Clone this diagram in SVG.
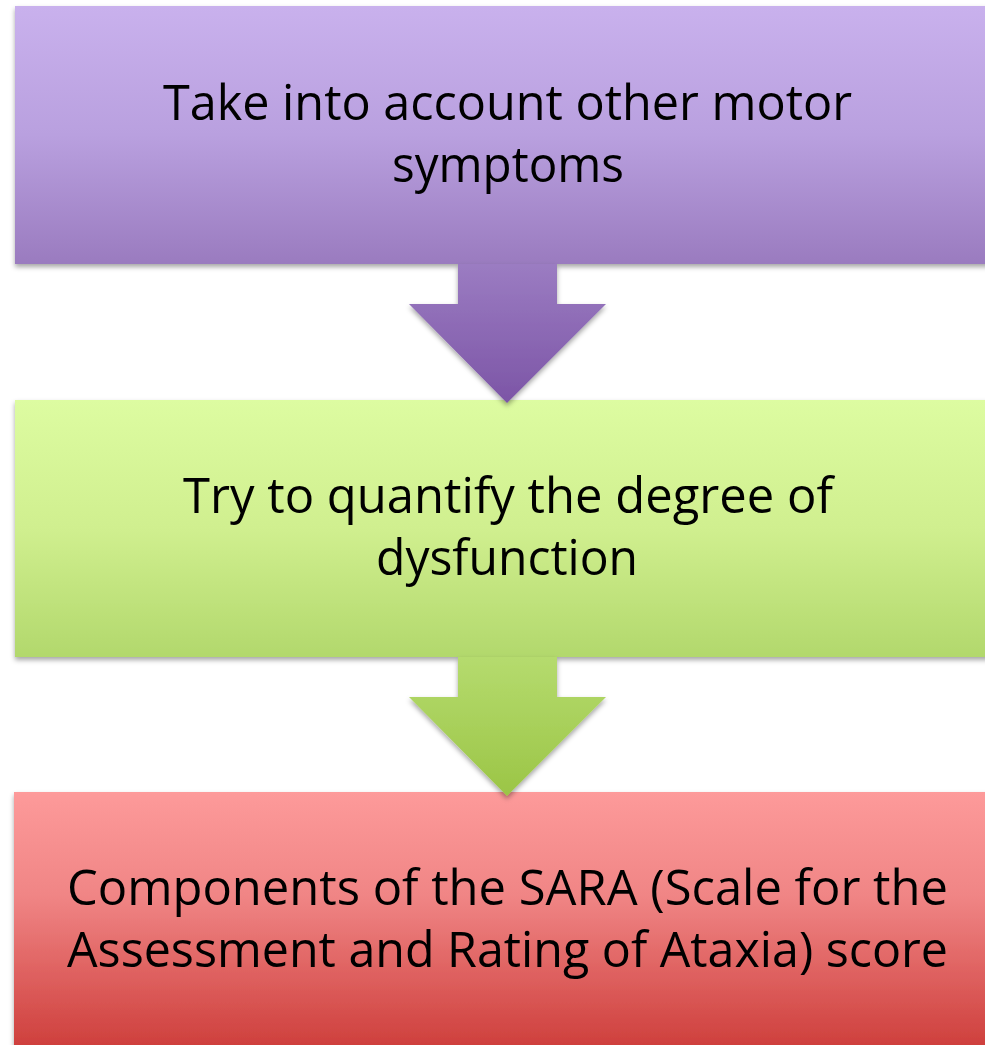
<svg xmlns="http://www.w3.org/2000/svg" width="985" height="1045" viewBox="0 0 985 1045">
<defs>
<linearGradient id="gPurple" x1="0" y1="0" x2="0" y2="1"><stop offset="0" stop-color="#c9b1ed"/><stop offset="0.5" stop-color="#b9a0df"/><stop offset="1" stop-color="#9a7bbf"/></linearGradient>
<linearGradient id="gGreen" x1="0" y1="0" x2="0" y2="1"><stop offset="0" stop-color="#ddfca1"/><stop offset="0.5" stop-color="#d0ef8f"/><stop offset="1" stop-color="#b2d86c"/></linearGradient>
<linearGradient id="gRed" x1="0" y1="0" x2="0" y2="1"><stop offset="0" stop-color="#fd9a9a"/><stop offset="0.4" stop-color="#f08585"/><stop offset="1" stop-color="#cd3d3a"/></linearGradient>
<linearGradient id="gArrowP" x1="0" y1="0" x2="0" y2="1"><stop offset="0" stop-color="#9b7cc2"/><stop offset="1" stop-color="#7c55a6"/></linearGradient>
<linearGradient id="gArrowG" x1="0" y1="0" x2="0" y2="1"><stop offset="0" stop-color="#b5db6e"/><stop offset="1" stop-color="#9bc546"/></linearGradient>
<filter id="shadow" x="-5%" y="-5%" width="110%" height="115%"><feDropShadow dx="0" dy="3" stdDeviation="2.5" flood-color="#000" flood-opacity="0.35"/></filter>
</defs>
<style>
.lbl{font-family:"Open Sans","Liberation Sans",sans-serif;font-size:49px;fill:#000;text-anchor:middle}
</style>
<rect width="985" height="1045" fill="#ffffff"/>
<g id="node1">
<rect x="15" y="6" width="986" height="258" fill="url(#gPurple)" filter="url(#shadow)"/>
<text class="lbl" x="507.5" y="120" textLength="689" lengthAdjust="spacingAndGlyphs">Take into account other motor</text>
<text class="lbl" x="508" y="182" textLength="232" lengthAdjust="spacingAndGlyphs">symptoms</text>
</g>
<g id="node2">
<rect x="15" y="400" width="986" height="257" fill="url(#gGreen)" filter="url(#shadow)"/>
<text class="lbl" x="508" y="513" textLength="650" lengthAdjust="spacingAndGlyphs">Try to quantify the degree of</text>
<text class="lbl" x="507" y="575" textLength="262" lengthAdjust="spacingAndGlyphs">dysfunction</text>
</g>
<g id="node3">
<rect x="14" y="792" width="987" height="260" fill="url(#gRed)" filter="url(#shadow)"/>
<text class="lbl" x="507.5" y="905" textLength="881" lengthAdjust="spacingAndGlyphs">Components of the SARA (Scale for the</text>
<text class="lbl" x="507.5" y="967" textLength="881" lengthAdjust="spacingAndGlyphs">Assessment and Rating of Ataxia) score</text>
</g>
<g id="connectors">
<path d="M458,264 L557,264 L557,304 L606,304 L507,403 L409,304 L458,304 Z" fill="url(#gArrowP)" filter="url(#shadow)"/>
<path d="M458,657 L557,657 L557,697 L606,697 L507,796 L409,697 L458,697 Z" fill="url(#gArrowG)" filter="url(#shadow)"/>
</g>
</svg>
